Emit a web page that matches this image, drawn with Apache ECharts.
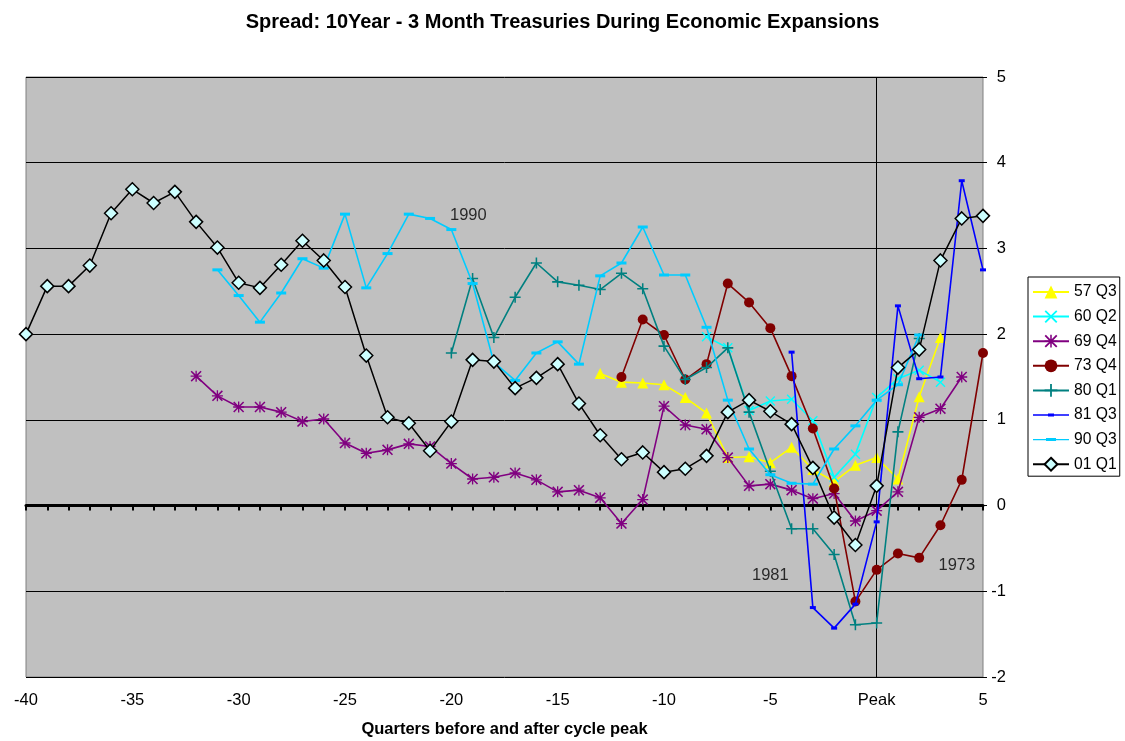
<!DOCTYPE html>
<html>
<head>
<meta charset="utf-8">
<script src="https://cdn.jsdelivr.net/npm/echarts@6/dist/echarts.min.js"></script>
<style>
  html, body { margin: 0; padding: 0; background: #fff; }
  #chart { width: 1125px; height: 741px; }
</style>
</head>
<body>
<div id="chart"></div>
<script>
// ---- data (quarters relative to cycle peak; each series lists its first quarter + values) ----
const seriesNames = ['57 Q3', '60 Q2', '69 Q4', '73 Q4', '80 Q1', '81 Q3', '90 Q3', '01 Q1'];
const startQuarter = [-13, -8, -32, -12, -20, -4, -31, -40];
const s57Q3 = [1.54, 1.44, 1.43, 1.41, 1.26, 1.08, 0.56, 0.57, 0.50, 0.68, 0.42, 0.28, 0.47, 0.56, 0.31, 1.27, 1.96];
const s60Q2 = [1.97, 1.84, 1.11, 1.22, 1.24, 0.99, 0.33, 0.60, 1.26, 1.48, 1.58, 1.44];
const s69Q4 = [1.51, 1.28, 1.15, 1.15, 1.09, 0.98, 1.01, 0.73, 0.61, 0.65, 0.72, 0.69, 0.49, 0.31, 0.33, 0.38,
               0.30, 0.16, 0.18, 0.09, -0.21, 0.07, 1.16, 0.94, 0.89, 0.56, 0.23, 0.25, 0.18, 0.08, 0.14, -0.18,
               -0.06, 0.16, 1.03, 1.13, 1.50];
const s73Q4 = [1.50, 2.17, 1.99, 1.47, 1.65, 2.59, 2.37, 2.07, 1.51, 0.90, 0.20, -1.12, -0.75, -0.56, -0.61, -0.23, 0.30, 1.78];
const s80Q1 = [1.78, 2.65, 1.96, 2.43, 2.83, 2.61, 2.57, 2.52, 2.71, 2.53, 1.86, 1.47, 1.61, 1.84, 1.09, 0.40,
               -0.27, -0.27, -0.57, -1.39, -1.37, 0.86, 1.95];
const s81Q3 = [1.79, -1.19, -1.43, -1.15, -0.19, 2.33, 1.48, 1.50, 3.79, 2.75];
const s90Q3 = [2.75, 2.45, 2.14, 2.48, 2.88, 2.77, 3.40, 2.54, 2.94, 3.40, 3.35, 3.22, 2.59, 1.67, 1.46, 1.78,
               1.91, 1.65, 2.68, 2.83, 3.25, 2.69, 2.69, 2.08, 1.23, 0.66, 0.36, 0.26, 0.25, 0.66, 0.93, 1.23, 1.41, 1.99];
const s01Q1 = [2.00, 2.56, 2.56, 2.80, 3.41, 3.69, 3.53, 3.66, 3.31, 3.01, 2.60, 2.54, 2.81, 3.09, 2.86, 2.55,
               1.75, 1.03, 0.96, 0.64, 0.98, 1.70, 1.68, 1.37, 1.49, 1.65, 1.19, 0.82, 0.54, 0.62, 0.39, 0.43,
               0.58, 1.09, 1.23, 1.10, 0.95, 0.44, -0.14, -0.46, 0.23, 1.61, 1.82, 2.86, 3.35, 3.38];
const allValues = [s57Q3, s60Q2, s69Q4, s73Q4, s80Q1, s81Q3, s90Q3, s01Q1];
const noteTexts = ['1990', '1981', '1973'];
const noteQuarter = [-19.2, -5.0, 3.77];
const noteValue = [3.38, -0.82, -0.70];
const xTickValues = [-40, -35, -30, -25, -20, -15, -10, -5, 0, 5];

// ---- styles ----
const colors = ['#FFFF00', '#00FFFF', '#800080', '#800000', '#008080', '#0000FF', '#00CCFF', '#000000'];
const X_PATH = 'path://M0,1L1,0L5,4L9,0L10,1L6,5L10,9L9,10L5,6L1,10L0,9L4,5Z';
const PLUS_PATH = 'path://M4.3,0H5.7V4.3H10V5.7H5.7V10H4.3V5.7H0V4.3H4.3Z';
const STAR_PATH = 'path://M0,1L1,0L5,4L9,0L10,1L6,5L10,9L9,10L5,6L1,10L0,9L4,5Z M4.4,0H5.6V4.4H10V5.6H5.6V10H4.4V5.6H0V4.4H4.4Z';
const symbols = [
  { symbol: 'triangle', size: 11 },
  { symbol: X_PATH, size: 10 },
  { symbol: STAR_PATH, size: 11 },
  { symbol: 'circle', size: 10 },
  { symbol: PLUS_PATH, size: 11 },
  { symbol: 'rect', size: [6, 3] },
  { symbol: 'rect', size: [10, 3] },
  { symbol: 'diamond', size: 13 }
];
// legend icons for the dash-marker series (line + small bar)
const legendIcons = {
  '81 Q3': 'path://M0,0.8H36V2.2H0Z M15,0H21V3H15Z',
  '90 Q3': 'path://M0,0.8H36V2.2H0Z M13,0H23V3H13Z'
};

const FONT = '"Liberation Sans", Arial, sans-serif';

const series = seriesNames.map((name, i) => {
  const data = allValues[i].map((v, k) => [startQuarter[i] + k, v]);
  const isDiamond = i === 7;
  const s = {
    name: name,
    type: 'line',
    xAxisIndex: 0,
    yAxisIndex: 0,
    data: data,
    symbol: symbols[i].symbol,
    symbolSize: symbols[i].size,
    showAllSymbol: true,
    animation: false,
    lineStyle: { color: colors[i], width: isDiamond ? 1.5 : 1.6 },
    itemStyle: isDiamond
      ? { color: '#CCFFFF', borderColor: '#000000', borderWidth: 1.5 }
      : { color: colors[i], borderWidth: 0 },
    emphasis: { disabled: true },
    z: 3 + i
  };
  if (i === 0) {
    s.markLine = {
      silent: true,
      symbol: 'none',
      label: { show: false },
      lineStyle: { color: '#000', width: 1, type: 'solid' },
      data: [{ xAxis: 0 }],
      animation: false
    };
  }
  return s;
});

series.push({
  name: 'notes',
  type: 'scatter',
  data: noteTexts.map((t, i) => ({ value: [noteQuarter[i], noteValue[i]], name: t })),
  symbolSize: 0,
  silent: true,
  animation: false,
  label: {
    show: true,
    position: 'inside',
    formatter: p => p.name,
    color: '#000',
    fontSize: 16.5,
    fontFamily: FONT
  },
  z: 20
});

const chart = echarts.init(document.getElementById('chart'), null, { renderer: 'canvas' });
chart.setOption({
  backgroundColor: '#ffffff',
  animation: false,
  title: {
    text: 'Spread: 10Year - 3 Month Treasuries During Economic Expansions',
    left: 'center',
    top: 7,
    textStyle: { fontFamily: FONT, fontSize: 20, fontWeight: 'bold', color: '#000' }
  },
  grid: {
    left: 26, right: 142, top: 77, bottom: 64,
    outerBoundsMode: 'none',
    containLabel: false,
    show: true,
    backgroundColor: '#C0C0C0',
    borderColor: '#808080',
    borderWidth: 1
  },
  legend: {
    data: seriesNames.map(n => (legendIcons[n] ? { name: n, icon: legendIcons[n] } : { name: n })),
    orient: 'vertical',
    left: 1028,
    top: 277,
    padding: [7, 3, 4, 4],
    itemGap: 8.6,
    itemWidth: 36,
    itemHeight: 16,
    backgroundColor: '#ffffff',
    borderColor: '#000000',
    borderWidth: 1,
    borderRadius: 0,
    textStyle: { fontFamily: FONT, fontSize: 15.7, lineHeight: 16, color: '#000' }
  },
  xAxis: [
    {
      type: 'value',
      min: -40, max: 5, interval: 5,
      position: 'bottom',
      axisLine: { show: false, onZero: false },
      axisTick: { show: false },
      splitLine: { show: false },
      axisLabel: {
        margin: 15,
        fontFamily: FONT, fontSize: 16.5, color: '#000',
        customValues: xTickValues,
        formatter: v => (v === 0 ? 'Peak' : String(v))
      },
      name: 'Quarters before and after cycle peak',
      nameLocation: 'middle',
      nameGap: 44,
      nameTextStyle: { fontFamily: FONT, fontSize: 16.5, fontWeight: 'bold', color: '#000' }
    },
    {
      type: 'value',
      min: -40, max: 5, interval: 1,
      position: 'bottom',
      axisLine: { show: true, onZero: true, onZeroAxisIndex: 0, lineStyle: { color: '#000', width: 3 } },
      axisTick: { show: true, inside: false, length: 5, lineStyle: { color: '#000', width: 2 } },
      axisLabel: { show: false },
      splitLine: { show: false }
    }
  ],
  yAxis: {
    type: 'value',
    min: -2, max: 5, interval: 1,
    position: 'right',
    axisLine: { show: false, onZero: false },
    axisTick: { show: true, length: 4, lineStyle: { color: '#000' } },
    axisLabel: { margin: 23, align: 'right', fontFamily: FONT, fontSize: 16.5, color: '#000' },
    splitLine: { show: true, lineStyle: { color: '#000', width: 1 } }
  },
  series: series
});
</script>
</body>
</html>
